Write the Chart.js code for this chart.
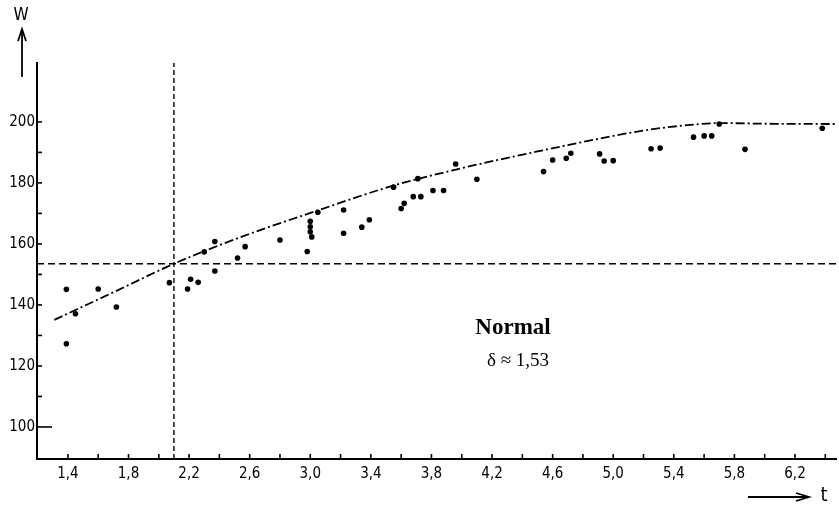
<!DOCTYPE html>
<html>
<head>
<meta charset="utf-8">
<script src="https://cdn.jsdelivr.net/npm/chart.js@4/dist/chart.umd.min.js"></script>
<style>
html,body{margin:0;padding:0;background:#fff;}
#wrap{width:839px;height:508px;}
</style>
</head>
<body>
<div id="wrap"><canvas id="c" width="839" height="508"></canvas></div>
<script>
// ---- data ----
const pointT = [1.39,1.45,1.39,1.60,1.72,2.07,2.19,2.21,2.26,2.30,2.37,2.37,2.52,2.57,2.80,2.98,3.00,3.00,3.00,3.01,3.05,3.22,3.22,3.34,3.39,3.55,3.60,3.62,3.68,3.71,3.73,3.81,3.88,3.96,4.10,4.54,4.60,4.69,4.72,4.91,4.94,5.00,5.25,5.31,5.53,5.60,5.65,5.70,5.87,6.38];
const pointW = [145.1,137.1,127.3,145.2,139.3,147.3,145.2,148.4,147.4,157.4,160.8,151.1,155.4,159.1,161.3,157.5,167.4,165.6,164.0,162.3,170.4,171.1,163.5,165.5,167.9,178.6,171.6,173.3,175.5,181.4,175.5,177.5,177.5,186.2,181.2,183.7,187.5,188.1,189.7,189.5,187.2,187.3,191.2,191.4,195.0,195.4,195.4,199.3,191.0,197.9];
const curveT = [1.31,1.72,2.10,2.55,3.04,3.54,3.98,4.50,4.90,5.23,5.51,5.69,6.00,6.47];
const curveW = [135.1,144.6,153.5,162.4,170.8,179.0,184.6,190.3,194.4,197.4,199.0,199.6,199.4,199.3];
const refT = 2.1;     // vertical dashed reference
const refW = 153.5;   // horizontal dashed reference
const xTicks  = [1.4,1.6,1.8,2.0,2.2,2.4,2.6,2.8,3.0,3.2,3.4,3.6,3.8,4.0,4.2,4.4,4.6,4.8,5.0,5.2,5.4,5.6,5.8,6.0,6.2,6.4];
const xLabels = ["1,4","","1,8","","2,2","","2,6","","3,0","","3,4","","3,8","","4,2","","4,6","","5,0","","5,4","","5,8","","6,2",""];
const yTicks  = [100,110,120,130,140,150,160,170,180,190,200];
const yLabels = ["100","","120","","140","","160","","180","","200"];
const xMin = 1.196, xMax = 6.472, yMin = 89.5, yMax = 219.3;
const annoTitle = "Normal";
const annoSub = "δ ≈ 1,53";

const tickFont = {family:"'DejaVu Sans Condensed','DejaVu Sans',sans-serif", size:15};

const extras = {
  id:'extras',
  afterDraw(chart){
    const ctx = chart.ctx, xs = chart.scales.x, ys = chart.scales.y, a = chart.chartArea;
    ctx.save();
    ctx.strokeStyle = '#000'; ctx.fillStyle = '#000'; ctx.lineWidth = 1.6;
    // inside tick marks
    xTicks.forEach(v=>{ const px = xs.getPixelForValue(v);
      ctx.beginPath(); ctx.moveTo(px,a.bottom); ctx.lineTo(px,a.bottom-5); ctx.stroke(); });
    yTicks.forEach(v=>{ const py = ys.getPixelForValue(v);
      ctx.beginPath(); ctx.moveTo(a.left,py); ctx.lineTo(a.left+(v===100?15:5),py); ctx.stroke(); });
    // W axis title and arrow
    ctx.font = "17px 'DejaVu Sans Condensed','DejaVu Sans',sans-serif";
    ctx.textAlign='center'; ctx.textBaseline='middle';
    ctx.fillText('W', 21, 16);
    ctx.lineWidth = 1.8;
    ctx.beginPath(); ctx.moveTo(22,77); ctx.lineTo(22,30); ctx.stroke();
    ctx.beginPath(); ctx.moveTo(18,41); ctx.lineTo(22,29); ctx.lineTo(26,41); ctx.stroke();
    // t axis title and arrow
    ctx.beginPath(); ctx.moveTo(748,497); ctx.lineTo(808,497); ctx.stroke();
    ctx.beginPath(); ctx.moveTo(796,493); ctx.lineTo(809,497); ctx.lineTo(796,501); ctx.stroke();
    ctx.font = "20px 'DejaVu Sans Condensed','DejaVu Sans',sans-serif";
    ctx.fillText('t', 824, 496);
    // annotation
    ctx.font = "bold 23px 'Liberation Serif','DejaVu Serif',serif";
    ctx.fillText(annoTitle, 513, 328);
    ctx.font = "19px 'Liberation Serif','DejaVu Serif',serif";
    ctx.fillText(annoSub, 518, 361);
    ctx.restore();
  }
};

new Chart(document.getElementById('c'), {
  data:{
    datasets:[
      {type:'scatter', data: pointT.map((t,i)=>({x:t,y:pointW[i]})),
       pointRadius:2.8, pointHoverRadius:2.8, backgroundColor:'#000', borderWidth:0},
      {type:'line', data: curveT.map((t,i)=>({x:t,y:curveW[i]})),
       borderColor:'#000', borderWidth:1.8, borderDash:[9,3,2,3], pointRadius:0,
       cubicInterpolationMode:'monotone', fill:false},
      {type:'line', data:[{x:xMin,y:refW},{x:xMax,y:refW}],
       borderColor:'#000', borderWidth:1.4, borderDash:[7,4], pointRadius:0, fill:false},
      {type:'line', data:[{x:refT,y:yMin},{x:refT,y:yMax}],
       borderColor:'#000', borderWidth:1.4, borderDash:[5,3], pointRadius:0, fill:false}
    ]
  },
  options:{
    responsive:false, animation:false,
    layout:{padding:{top:63,left:0,right:0,bottom:0}},
    plugins:{legend:{display:false}, tooltip:{enabled:false}},
    scales:{
      x:{type:'linear', min:xMin, max:xMax,
         afterBuildTicks: s => { s.ticks = xTicks.map(v=>({value:v})); },
         afterFit: s => { s.height = 49; },
         grid:{display:false, drawTicks:false, tickLength:0},
         border:{display:true, color:'#000', width:2},
         ticks:{autoSkip:false, maxRotation:0, padding:6, color:'#000', font:tickFont,
                callback:(v,i)=> xLabels[i]}},
      y:{type:'linear', min:yMin, max:yMax,
         afterBuildTicks: s => { s.ticks = yTicks.map(v=>({value:v})); },
         afterFit: s => { s.width = 37; },
         grid:{display:false, drawTicks:false, tickLength:0},
         border:{display:true, color:'#000', width:2},
         ticks:{autoSkip:false, padding:2, color:'#000', font:tickFont,
                callback:(v,i)=> yLabels[i]}}
    }
  },
  plugins:[extras]
});
</script>
</body>
</html>
